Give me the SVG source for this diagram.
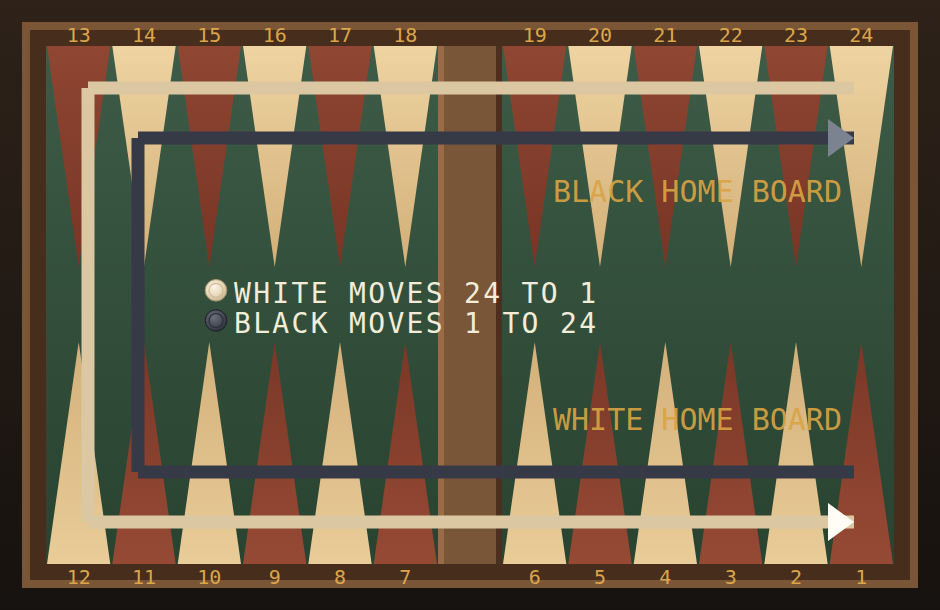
<svg xmlns="http://www.w3.org/2000/svg" width="940" height="610" viewBox="0 0 940 610">
<defs>
<linearGradient id="bg" x1="0" y1="0" x2="0" y2="1"><stop offset="0" stop-color="#2e2219"/><stop offset="1" stop-color="#16120f"/></linearGradient>
<linearGradient id="felt" x1="0" y1="0" x2="0" y2="1"><stop offset="0" stop-color="#3d5b46"/><stop offset="1" stop-color="#284330"/></linearGradient>
<linearGradient id="redT" x1="0" y1="0" x2="0" y2="1"><stop offset="0" stop-color="#8f4633"/><stop offset="1" stop-color="#783525"/></linearGradient>
<linearGradient id="redB" x1="0" y1="1" x2="0" y2="0"><stop offset="0" stop-color="#964a35"/><stop offset="1" stop-color="#7a3727"/></linearGradient>
<linearGradient id="creamT" x1="0" y1="0" x2="0" y2="1"><stop offset="0" stop-color="#eed4a2"/><stop offset="1" stop-color="#d3af78"/></linearGradient>
<linearGradient id="creamB" x1="0" y1="1" x2="0" y2="0"><stop offset="0" stop-color="#e9cc98"/><stop offset="1" stop-color="#d3b07a"/></linearGradient>
<radialGradient id="wChk" cx="0.4" cy="0.35" r="0.7"><stop offset="0" stop-color="#fbf5e6"/><stop offset="0.6" stop-color="#e6d8b8"/><stop offset="1" stop-color="#c2ad88"/></radialGradient>
<radialGradient id="bChk" cx="0.4" cy="0.35" r="0.7"><stop offset="0" stop-color="#6a707c"/><stop offset="0.6" stop-color="#464b56"/><stop offset="1" stop-color="#2a2d35"/></radialGradient>
</defs>
<style>
.num{font-family:"DejaVu Sans Mono","Liberation Mono",monospace;font-size:20px;fill:#dba64a;text-anchor:middle}
.home{font-family:"DejaVu Sans Mono","Liberation Mono",monospace;font-size:30px;fill:#d9a443;fill-opacity:0.93}
.legend{font-family:"DejaVu Sans Mono","Liberation Mono",monospace;font-size:28px;fill:#f3ecd9}
.rt{fill:url(#redT)} .rb{fill:url(#redB)} .ct{fill:url(#creamT)} .cb{fill:url(#creamB)}
.wline{stroke:#dcc7a3;stroke-width:13;stroke-linecap:butt;fill:none}
.bline{stroke:#363a46;stroke-width:13;stroke-linecap:butt;fill:none}
</style>
<rect width="940" height="610" fill="url(#bg)"/>
<g id="board">
<rect x="22" y="22" width="896" height="566" fill="#7a5637"/>
<rect x="30" y="30" width="880" height="550" fill="#472d1c"/>
<rect x="46" y="46" width="848" height="518" fill="url(#felt)"/>
</g>
<g id="points-top">
<polygon class="rt" points="47,46 110.3,46 78.7,267"/>
<polygon class="ct" points="112.3,46 175.7,46 144,267"/>
<polygon class="rt" points="177.7,46 241,46 209.3,267"/>
<polygon class="ct" points="243,46 306.3,46 274.7,267"/>
<polygon class="rt" points="308.3,46 371.7,46 340,267"/>
<polygon class="ct" points="373.7,46 437,46 405.3,267"/>
<polygon class="rt" points="503,46 566.3,46 534.7,267"/>
<polygon class="ct" points="568.3,46 631.7,46 600,267"/>
<polygon class="rt" points="633.7,46 697,46 665.3,267"/>
<polygon class="ct" points="699,46 762.3,46 730.7,267"/>
<polygon class="rt" points="764.3,46 827.7,46 796,267"/>
<polygon class="ct" points="829.7,46 893,46 861.3,267"/>
</g>
<g id="points-bottom">
<polygon class="cb" points="47,564 110.3,564 78.7,342"/>
<polygon class="rb" points="112.3,564 175.7,564 144,342"/>
<polygon class="cb" points="177.7,564 241,564 209.3,342"/>
<polygon class="rb" points="243,564 306.3,564 274.7,342"/>
<polygon class="cb" points="308.3,564 371.7,564 340,342"/>
<polygon class="rb" points="373.7,564 437,564 405.3,342"/>
<polygon class="cb" points="503,564 566.3,564 534.7,342"/>
<polygon class="rb" points="568.3,564 631.7,564 600,342"/>
<polygon class="cb" points="633.7,564 697,564 665.3,342"/>
<polygon class="rb" points="699,564 762.3,564 730.7,342"/>
<polygon class="cb" points="764.3,564 827.7,564 796,342"/>
<polygon class="rb" points="829.7,564 893,564 861.3,342"/>
</g>
<g id="bar">
<rect x="438" y="46" width="6" height="518" fill="#9a6b47"/>
<rect x="444" y="46" width="52" height="518" fill="#7a5638"/>
<rect x="496" y="46" width="6" height="518" fill="#4b301f"/>
</g>
<g id="numbers-top">
<text class="num" x="78.7" y="42">13</text>
<text class="num" x="144" y="42">14</text>
<text class="num" x="209.3" y="42">15</text>
<text class="num" x="274.7" y="42">16</text>
<text class="num" x="340" y="42">17</text>
<text class="num" x="405.3" y="42">18</text>
<text class="num" x="534.7" y="42">19</text>
<text class="num" x="600" y="42">20</text>
<text class="num" x="665.3" y="42">21</text>
<text class="num" x="730.7" y="42">22</text>
<text class="num" x="796" y="42">23</text>
<text class="num" x="861.3" y="42">24</text>
</g>
<g id="numbers-bottom">
<text class="num" x="78.7" y="584">12</text>
<text class="num" x="144" y="584">11</text>
<text class="num" x="209.3" y="584">10</text>
<text class="num" x="274.7" y="584">9</text>
<text class="num" x="340" y="584">8</text>
<text class="num" x="405.3" y="584">7</text>
<text class="num" x="534.7" y="584">6</text>
<text class="num" x="600" y="584">5</text>
<text class="num" x="665.3" y="584">4</text>
<text class="num" x="730.7" y="584">3</text>
<text class="num" x="796" y="584">2</text>
<text class="num" x="861.3" y="584">1</text>
</g>
<g id="connectors">
<g id="white-path">
<line class="wline" x1="854" y1="88" x2="88" y2="88"/>
<line class="wline" x1="88" y1="88" x2="88" y2="522"/>
<line class="wline" x1="88" y1="522" x2="854" y2="522"/>
<polygon points="828,503 854,522 828,541" fill="#fffdf6"/>
</g>
<g id="black-path">
<line class="bline" x1="854" y1="472" x2="138" y2="472"/>
<line class="bline" x1="138" y1="472" x2="138" y2="138"/>
<line class="bline" x1="138" y1="138" x2="854" y2="138"/>
<polygon points="828,119 854,138 828,157" fill="#7c8390"/>
</g>
</g>
<g id="home-labels">
<text class="home" x="553" y="202">BLACK HOME BOARD</text>
<text class="home" x="553" y="429.5">WHITE HOME BOARD</text>
</g>
<g id="legend">
<g id="white-checker">
<circle cx="216" cy="290.3" r="10.8" fill="url(#wChk)" stroke="#a8946f" stroke-width="1"/>
<circle cx="216" cy="290.3" r="7" fill="none" stroke="#cdbb98" stroke-width="1.2"/>
</g>
<g id="black-checker">
<circle cx="216" cy="320.5" r="10.8" fill="url(#bChk)" stroke="#1e2027" stroke-width="1"/>
<circle cx="216" cy="320.5" r="7" fill="none" stroke="#2a2d35" stroke-width="1.2"/>
</g>
<text class="legend" x="234" y="303.3" textLength="362" lengthAdjust="spacing">WHITE MOVES 24 TO 1</text>
<text class="legend" x="234" y="333.3" textLength="362" lengthAdjust="spacing">BLACK MOVES 1 TO 24</text>
</g>
</svg>
